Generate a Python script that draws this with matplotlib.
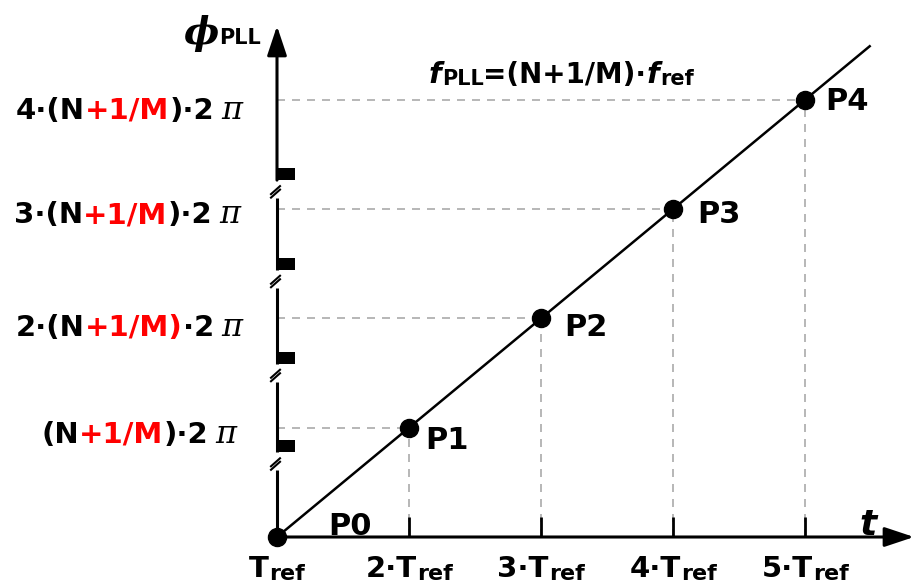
import matplotlib
matplotlib.use('Agg')
import matplotlib.pyplot as plt
from matplotlib.patches import Rectangle

# ---------------- data ----------------
t_points = [1, 2, 3, 4, 5]            # time in multiples of T_ref
phi_points = [0, 1, 2, 3, 4]          # phase in multiples of (N+1/M)*2pi
point_labels = ['P0', 'P1', 'P2', 'P3', 'P4']
line_t = [1, 5.49]                    # PLL phase line (extends past P4)
line_phi = [0, 4.49]
x_tick_prefix = ['', '2·', '3·', '4·', '5·']
y_label_pieces = [
    [('(N', 'k'), ('+1/M', 'r'), (')·2', 'k')],
    [('2·(N', 'k'), ('+1/M)', 'r'), ('·2', 'k')],
    [('3·(N', 'k'), ('+1/M', 'r'), (')·2', 'k')],
    [('4·(N', 'k'), ('+1/M', 'r'), (')·2', 'k')],
]
break_levels = [0.83, 1.64, 2.50, 3.32]   # axis-break marks on phase axis

# ---------------- layout ----------------
W, H, DPI = 924, 583, 100
OX, OY = 277, 537       # pixel of data (1, 0)
SX, SY = 132.0, 109.3   # pixels per data unit

fig = plt.figure(figsize=(W / DPI, H / DPI), dpi=DPI)
ax = fig.add_axes([0, 0, 1, 1])
ax.set_xlim(1 - OX / SX, 1 + (W - OX) / SX)
ax.set_ylim(-(H - OY) / SY, OY / SY)
ax.axis('off')

FONT = 'DejaVu Sans'
RED = '#ff0000'
GREY = '#aaaaaa'
colors = {'k': 'black', 'r': RED}


def d2p(x, y):
    """data -> top-left pixel"""
    X, Y = ax.transData.transform((x, y))
    return X, H - Y


def p2d(xp, yp):
    return ax.transData.inverted().transform((xp, H - yp))


renderer = fig.canvas.get_renderer()


def rich(pieces, xp, yp, ha='left'):
    """pieces: list of dicts with s, color, size, style, family, gap(px before), dy(px down)"""
    objs, widths = [], []
    for p in pieces:
        t = ax.text(0, 0, p['s'], color=p.get('color', 'black'), fontsize=p.get('size', 21),
                    fontweight=p.get('weight', 'bold'), fontstyle=p.get('style', 'normal'),
                    family=p.get('family', FONT), va='baseline', ha='left')
        objs.append(t)
        widths.append(t.get_window_extent(renderer=renderer).width)
    total = sum(widths) + sum(p.get('gap', 0) for p in pieces)
    if ha == 'right':
        x = xp - total
    elif ha == 'center':
        x = xp - total / 2
    else:
        x = xp
    for t, w, p in zip(objs, widths, pieces):
        x += p.get('gap', 0)
        t.set_position(p2d(x, yp + p.get('dy', 0)))
        x += w
    return objs


# ---------------- dashed guide lines ----------------
for t, ph in zip(t_points[1:], phi_points[1:]):
    ax.plot([t_points[0], t], [ph, ph], color=GREY, lw=1.2, ls=(0, (4.8, 4.2)), zorder=1)
    ax.plot([t, t], [0, ph], color=GREY, lw=1.2, ls=(0, (4.8, 4.2)), zorder=1)

# ---------------- x axis ----------------
x_tip = 1 + (914 - OX) / SX
ax.annotate('', xy=(x_tip, 0), xytext=(t_points[0], 0),
            arrowprops=dict(arrowstyle='-|>,head_length=0.9,head_width=0.3', lw=2.2,
                            color='black', shrinkA=0, shrinkB=0, mutation_scale=20),
            zorder=3)
for t in t_points[1:]:
    ax.plot([t, t], [0, 20 / SY], color='black', lw=2.0, solid_capstyle='butt', zorder=3)

# ---------------- y axis with breaks ----------------
rect_h = 12 / SY
gap_h = 18 / SY
y_tip = (OY - 26) / SY
seg_start = 0
for b in break_levels:
    bottom = b - rect_h / 2
    ax.plot([1, 1], [seg_start, bottom - gap_h], color='black', lw=2.2,
            solid_capstyle='butt', zorder=3)
    ax.add_patch(Rectangle((1 - 1.5 / SX, bottom), 19 / SX, rect_h, color='black', lw=0, zorder=3))
    # break slashes
    cx, cy = d2p(1, bottom)
    for off in (0, 3.5):
        x0, y0 = p2d(cx - 6, cy + 14 + off)
        x1, y1 = p2d(cx + 3, cy + 6 + off)
        ax.plot([x0, x1], [y0, y1], color='black', lw=1.5, zorder=3)
    seg_start = bottom
ax.annotate('', xy=(1, y_tip), xytext=(1, seg_start),
            arrowprops=dict(arrowstyle='-|>,head_length=0.9,head_width=0.3', lw=2.2,
                            color='black', shrinkA=0, shrinkB=0, mutation_scale=20),
            zorder=3)

# ---------------- PLL phase line and points ----------------
ax.plot(line_t, line_phi, color='black', lw=1.8, zorder=4)
ax.plot(t_points, phi_points, 'o', color='black', ms=13, zorder=5)

label_offsets = [(51, -2), (16, 21), (23, 18), (24, 14), (20, 10)]
for t, ph, lab, (dx, dy) in zip(t_points, phi_points, point_labels, label_offsets):
    xp, yp = d2p(t, ph)
    rich([dict(s=lab, size=22)], xp + dx, yp + dy, ha='left')

# ---------------- x tick labels ----------------
for t, pre in zip(t_points, x_tick_prefix):
    xp, _ = d2p(t, 0)
    rich([dict(s=pre + 'T', size=21), dict(s='ref', size=16, dy=3)], xp, 577, ha='center')

# ---------------- y tick labels ----------------
right_edges = [236, 242, 240, 242]
base_offsets = [15, 18, 14, 19]
for ph, pieces, re_, bo in zip(phi_points[1:], y_label_pieces, right_edges, base_offsets):
    _, yp = d2p(1, ph)
    pcs = [dict(s=s, color=colors[c], size=21) for s, c in pieces]
    pcs.append(dict(s='π', size=23, weight='normal', style='italic', family='DejaVu Serif', gap=7))
    rich(pcs, re_, yp + bo, ha='right')

# ---------------- axis titles ----------------
rich([dict(s='ϕ', size=27, weight='bold', style='italic', family='DejaVu Serif'),
      dict(s='PLL', size=15, gap=1)], 183, 44, ha='left')
rich([dict(s='t', size=26, style='italic')], 868, 535, ha='center')

# ---------------- formula ----------------
rich([dict(s='f', size=21, style='italic'),
      dict(s='PLL', size=15, dy=2, gap=1),
      dict(s='=(N+1/M)·', size=20),
      dict(s='f', size=21, style='italic'),
      dict(s='ref', size=15, dy=2, gap=1)], 561, 83, ha='center')

fig.savefig('out.png', dpi=DPI)
